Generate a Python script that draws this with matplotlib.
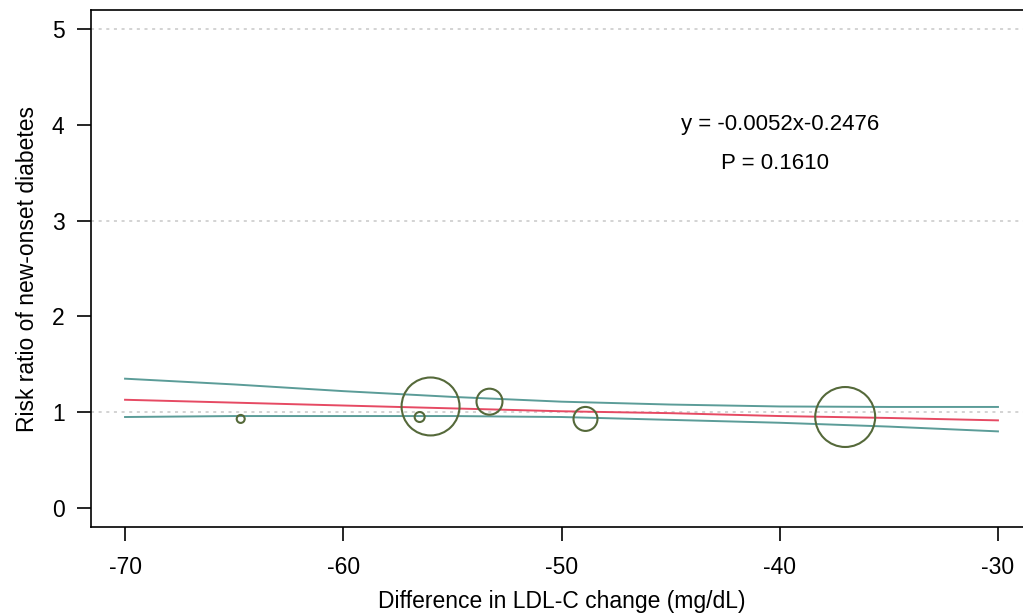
import numpy as np
import matplotlib.pyplot as plt

plt.rcParams['font.family'] = ['Liberation Sans', 'DejaVu Sans']
plt.rcParams['axes.unicode_minus'] = False

# Study points: LDL-C difference vs risk ratio, bubble = study weight
ldl_diff = [-64.7, -56.5, -56.0, -53.3, -48.9, -37.0]
risk_ratio = [0.93, 0.95, 1.06, 1.11, 0.93, 0.95]
weight = [16, 25, 841, 169, 144, 900]

# Meta-regression fit and 95% CI
fit_x = [-70, -65, -60, -55, -50, -45, -40, -35, -30]
fit_y = [1.13, 1.10, 1.07, 1.04, 1.01, 0.99, 0.96, 0.94, 0.915]
ci_upper = [1.35, 1.29, 1.22, 1.16, 1.11, 1.08, 1.06, 1.055, 1.055]
ci_lower = [0.95, 0.96, 0.96, 0.96, 0.95, 0.92, 0.89, 0.85, 0.80]

ref_lines = [1, 3, 5]

fig = plt.figure(figsize=(10.23, 6.16), dpi=100)
ax = fig.add_axes([91 / 1023, 89 / 616, 941 / 1023, 517 / 616])

for r in ref_lines:
    ax.axhline(r, color='#c8c8c8', linestyle=(0, (2, 3)), linewidth=1.1, zorder=0)

ax.plot(fit_x, ci_upper, color='#5b9c98', linewidth=1.4)
ax.plot(fit_x, ci_lower, color='#5b9c98', linewidth=1.4)
ax.plot(fit_x, fit_y, color='#e64a63', linewidth=1.4)

ax.scatter(ldl_diff, risk_ratio, s=np.array(weight) * 2.07, facecolors='none',
           edgecolors='#55693a', linewidths=1.5, zorder=3)

ax.text(-40, 4.0, 'y = -0.0052x-0.2476', ha='center', va='center', fontsize=16)
ax.text(-40.2, 3.6, 'P = 0.1610', ha='center', va='center', fontsize=16)

ax.set_xlim(-71.56, -28.44)
ax.set_ylim(-0.198, 5.198)
ax.set_xticks([-70, -60, -50, -40, -30])
ax.set_yticks([0, 1, 2, 3, 4, 5])

for s in ax.spines.values():
    s.set_linewidth(1.2)
ax.tick_params(direction='out', length=10, width=1.2, labelsize=16.5)
ax.tick_params(axis='x', pad=11)
ax.tick_params(axis='y', pad=9)

ax.set_ylabel('Risk ratio of new-onset diabetes', fontsize=16.5, labelpad=9)
ax.set_xlabel('Difference in LDL-C change (mg/dL)', fontsize=16.5, labelpad=8)

fig.savefig('out.png', dpi=100)
